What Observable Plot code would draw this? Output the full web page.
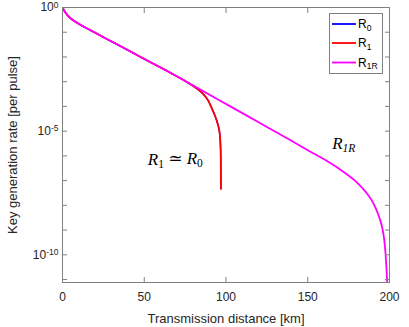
<!DOCTYPE html>
<html><head><meta charset="utf-8">
<script src="https://cdn.jsdelivr.net/npm/d3@7"></script>
<script src="https://cdn.jsdelivr.net/npm/@observablehq/plot@0.6"></script>
<style>
body{margin:0;background:#fff;}
#chart{position:relative;width:409px;height:327px;}
</style></head><body><div id="chart"></div>
<script>
// ---- data (rates stored as log10 exponents) ----
const r1rKm  = [0, 1, 2, 4, 8, 12, 16, 25, 36.5, 50, 66, 80, 97, 110, 125, 140, 150, 160, 170, 180, 186, 190.4, 193, 195.5, 196.8, 197.6, 198.2, 198.6];
const r1rExp = [0, -0.12, -0.22, -0.38, -0.58, -0.74, -0.88, -1.2, -1.6, -2.08, -2.64, -3.16, -3.79, -4.27, -4.83, -5.39, -5.77, -6.14, -6.56, -7.07, -7.5, -7.95, -8.35, -8.89, -9.4, -9.97, -10.6, -11.12];
const r1Km   = [0, 1, 2, 4, 8, 12, 16, 25, 36.5, 50, 66, 78, 82, 86.4, 89, 91.5, 93.5, 95, 95.6, 96.3, 96.6, 96.8, 96.9];
const r1Exp  = [0, -0.12, -0.22, -0.38, -0.58, -0.74, -0.88, -1.2, -1.6, -2.08, -2.64, -3.09, -3.27, -3.52, -3.75, -4.1, -4.42, -4.72, -4.88, -5.2, -5.52, -6.0, -7.33];
const r0Km   = r1Km;   // R0 coincides with R1 (hidden beneath it)
const r0Exp  = r1Exp;
const seriesNames  = ["R0", "R1", "R1R"];
const seriesColors = ["#0000ff", "#ff0000", "#ff00ff"];
const xTicks     = [0, 50, 100, 150, 200];
const yTickExps  = [0, -1, -2, -3, -4, -5, -6, -7, -8, -9, -10, -11];
const yLabelExps = [0, -5, -10];
const yDomainExp = [-11.12, 0];
const annotations = [
  {km: 69, exp: -6.15, key: "A"},
  {km: 172, exp: -5.5, key: "B"}
];

const mk = (kms, exps) => kms.map((k, i) => ({km: k, r: Math.pow(10, exps[i])}));
const series = [mk(r0Km, r0Exp), mk(r1Km, r1Exp), mk(r1rKm, r1rExp)];
const yTicks = yTickExps.map(e => Math.pow(10, e));
const yLabelTicks = yLabelExps.map(e => Math.pow(10, e));
const AX = "#808080";
const XLABEL = "Transmission distance [km]";
const YLABEL = "Key generation rate [per pulse]";

const chart = Plot.plot({
  width: 409, height: 327,
  marginLeft: 62, marginRight: 20, marginTop: 7, marginBottom: 45,
  x: {domain: [0, 200]},
  y: {type: "log", domain: [Math.pow(10, yDomainExp[0]), Math.pow(10, yDomainExp[1])]},
  style: {fontFamily: "'Liberation Sans', Arial, sans-serif", fontSize: "12px", color: "#262626", background: "#fff"},
  marks: [
    Plot.line(series[0], {x: "km", y: "r", stroke: seriesColors[0], strokeWidth: 1.4, curve: "monotone-x", clip: true}),
    Plot.line(series[1], {x: "km", y: "r", stroke: seriesColors[1], strokeWidth: 1.8, curve: "monotone-x", clip: true}),
    Plot.line(series[2], {x: "km", y: "r", stroke: seriesColors[2], strokeWidth: 1.8, curve: "monotone-x", clip: true}),
    Plot.frame({stroke: AX}),
    // inward ticks on all four sides
    Plot.axisX(xTicks, {anchor: "bottom", tickSize: 5, dy: -5, tickFormat: () => "", label: null, stroke: AX}),
    Plot.axisX(xTicks, {anchor: "top", tickSize: 5, dy: 5, tickFormat: () => "", label: null, stroke: AX}),
    Plot.axisY(yTicks, {anchor: "left", tickSize: 5, dx: 5, tickFormat: () => "", label: null, stroke: AX}),
    Plot.axisY(yTicks, {anchor: "right", tickSize: 5, dx: -5, tickFormat: () => "", label: null, stroke: AX}),
    // labels
    Plot.axisX(xTicks, {anchor: "bottom", tickSize: 0, tickPadding: 10, tickFormat: d => String(d),
      label: XLABEL, labelAnchor: "center", labelOffset: 40}),
    Plot.axisY(yLabelTicks, {anchor: "left", tickSize: 0, tickPadding: 4,
      tickFormat: d => "10^" + Math.round(Math.log10(d)),
      label: YLABEL, labelAnchor: "center", labelOffset: 55}),
    Plot.text(annotations, {x: "km", y: d => Math.pow(10, d.exp), text: "key",
      fontFamily: "'Liberation Serif', 'DejaVu Serif', serif", fontSize: 17, fontStyle: "italic", fill: "#000"})
  ]
});

const svg = d3.select(chart);
svg.selectAll("text").each(function() {
  const t = d3.select(this);
  const s = this.textContent;
  const m = /^10\^(-?\d+)$/.exec(s);
  if (m) {
    t.text(null);
    t.append("tspan").text("10");
    t.append("tspan").attr("dy", "-0.45em").attr("font-size", "8.5px").text(m[1]);
    return;
  }
  // strip direction arrows from axis labels
  if (s.includes(XLABEL) || s.includes(YLABEL)) {
    t.text(s.includes(XLABEL) ? XLABEL : YLABEL).attr("font-size", "13px");
  }
});

// annotation rich text
function rich(el, parts) {
  const t = d3.select(el);
  t.text(null);
  parts.forEach(p => {
    const ts = t.append("tspan").text(p.t);
    if (p.sub) ts.attr("font-size", "11.5px").attr("font-style", p.it ? "italic" : "normal").attr("dy", "0.25em");
    if (p.up) ts.attr("dy", "-0.25em");
  });
}
svg.selectAll("text").each(function() {
  if (this.textContent === "A") rich(this, [{t: "R"}, {t: "1", sub: 1}, {t: " \u2243 R", up: 1}, {t: "0", sub: 1}]);
  else if (this.textContent === "B") rich(this, [{t: "R"}, {t: "1R", sub: 1, it: 1}]);
});

// legend
const lg = svg.append("g").attr("text-anchor", "start");
lg.append("rect").attr("x", 329.5).attr("y", 13.5).attr("width", 53).attr("height", 60)
  .attr("fill", "#fff").attr("stroke", AX);
const subs = ["0", "1", "1R"];
const rowY = [24, 43, 62.5];
seriesNames.forEach((n, i) => {
  lg.append("line").attr("x1", 332).attr("x2", 356).attr("y1", rowY[i]).attr("y2", rowY[i])
    .attr("stroke", seriesColors[i]).attr("stroke-width", 1.8);
  const tx = lg.append("text").attr("x", 358).attr("y", rowY[i] + 4)
    .attr("font-size", "12px").attr("fill", "#000");
  tx.append("tspan").text("R");
  tx.append("tspan").attr("font-size", "8.5px").attr("dy", "0.3em").text(subs[i]);
});

document.getElementById("chart").appendChild(chart);
</script></body></html>
